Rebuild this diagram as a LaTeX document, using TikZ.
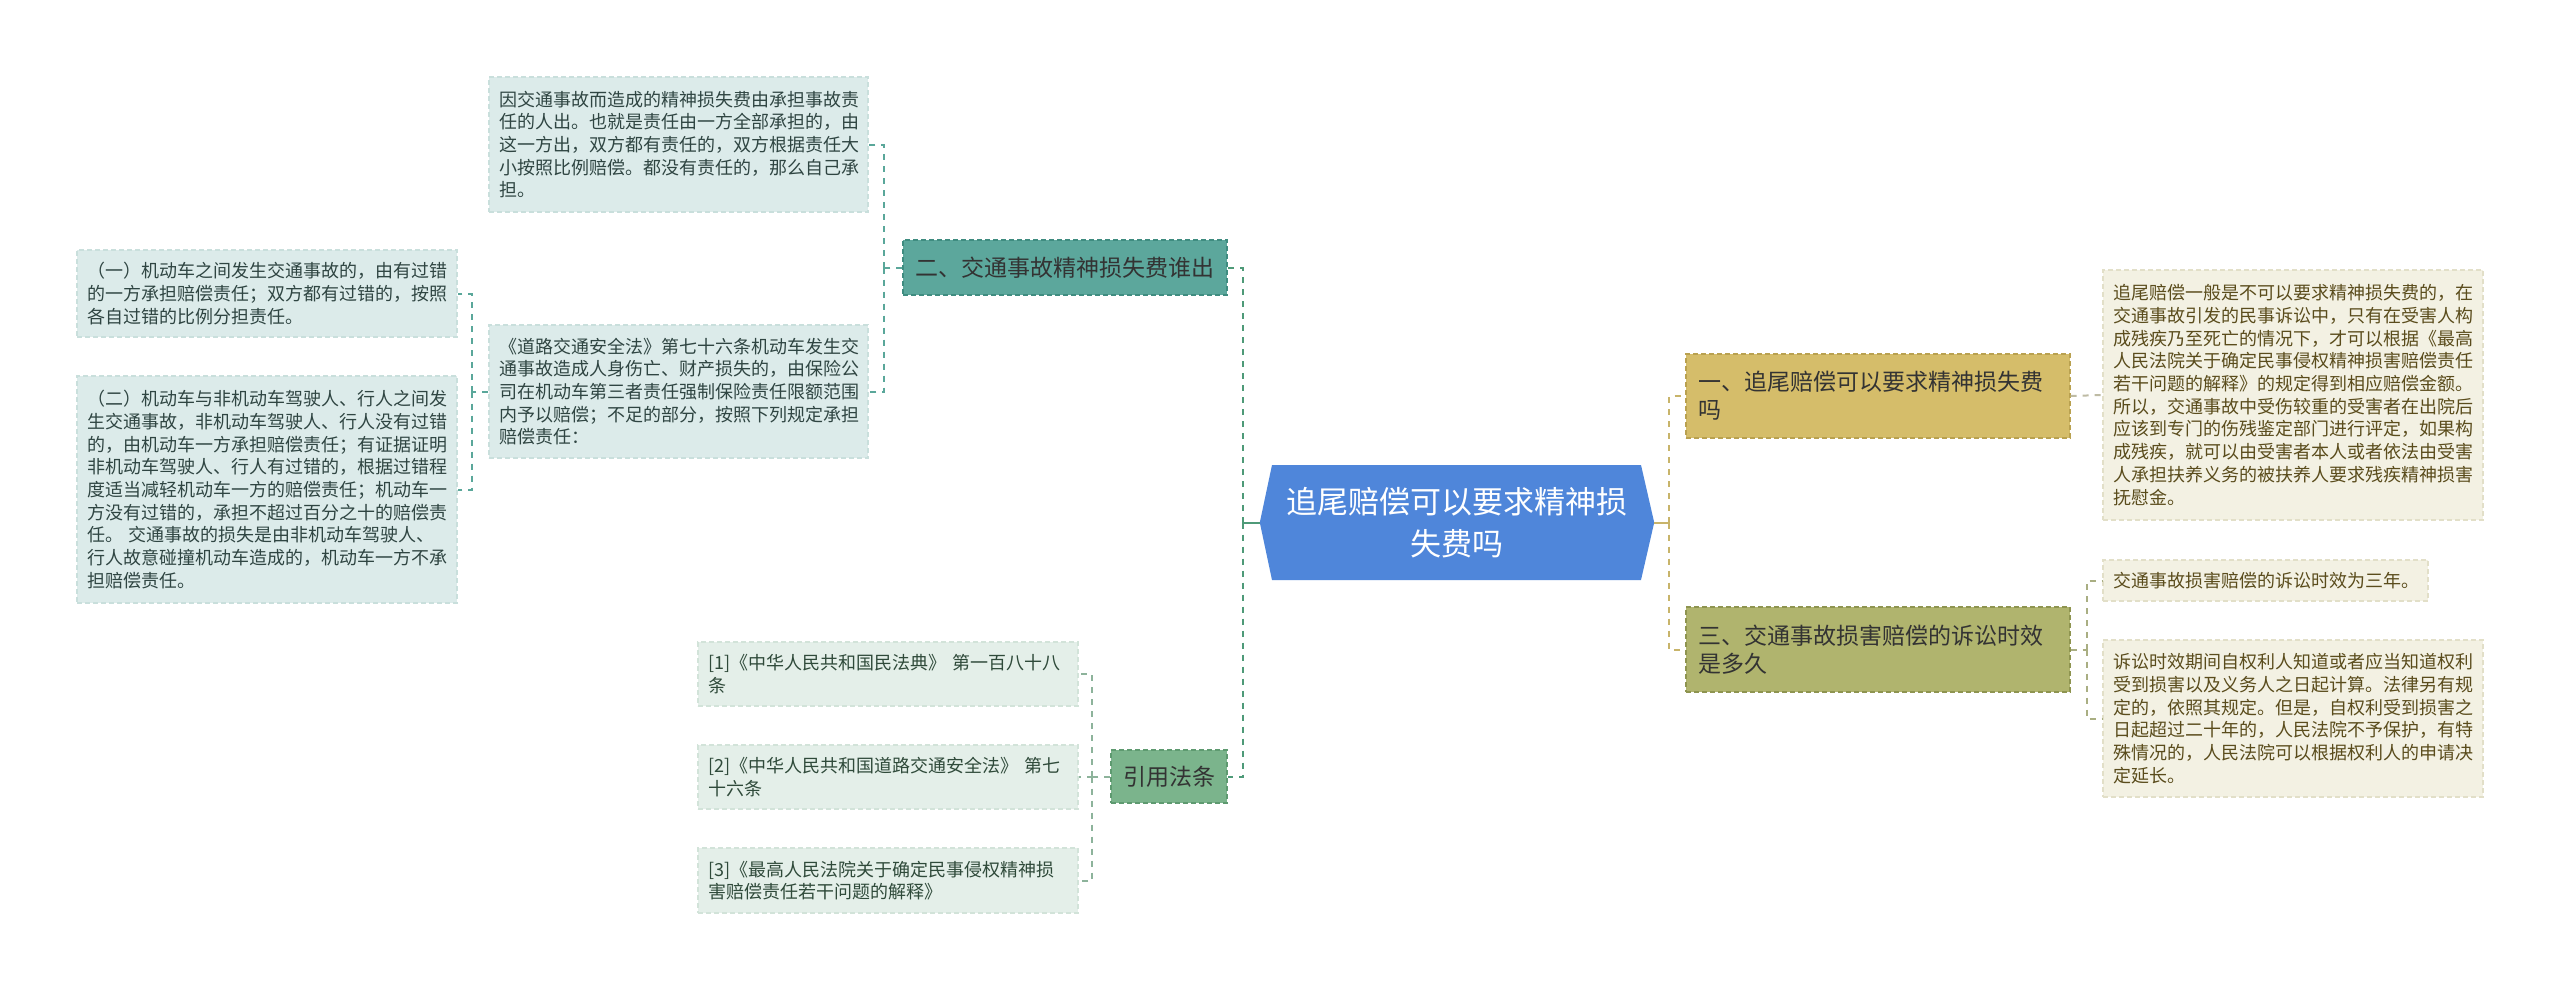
\documentclass[tikz,border=0pt]{standalone}
\usepackage{fontspec}
\setmainfont{Noto Sans CJK SC}
\definecolor{rootblue}{HTML}{4F86DA}
\definecolor{tealfill}{HTML}{5CA79C}
\definecolor{tealdraw}{HTML}{3F8C80}
\definecolor{tealpale}{HTML}{DCEBEA}
\definecolor{tealpaledraw}{HTML}{C9DFDC}
\definecolor{tealtext}{HTML}{2F4542}
\definecolor{goldfill}{HTML}{D5BD6A}
\definecolor{golddraw}{HTML}{B9A150}
\definecolor{olivefill}{HTML}{B0B46E}
\definecolor{olivedraw}{HTML}{8E9450}
\definecolor{creampale}{HTML}{F3F1E3}
\definecolor{creamdraw}{HTML}{E2DFC8}
\definecolor{creamtext}{HTML}{5A4C1C}
\definecolor{greenfill}{HTML}{7BB48C}
\definecolor{greendraw}{HTML}{5E9A70}
\definecolor{greenpale}{HTML}{E4EFE9}
\definecolor{greenpaledraw}{HTML}{D2E3D9}
\definecolor{greentext}{HTML}{2F4A3A}
\definecolor{lineteal}{HTML}{5AA79A}
\definecolor{linegreen}{HTML}{4E9A78}
\definecolor{linegold}{HTML}{C8B46A}
\definecolor{linegrey}{HTML}{BEBBA4}
\definecolor{lineolive}{HTML}{A9AE82}
\definecolor{linecite}{HTML}{8DB39B}
\definecolor{darktext}{HTML}{333333}
\tikzset{
  box/.style={rectangle, dashed, line width=1.2pt, dash pattern=on 5pt off 3pt, inner xsep=10pt, inner ysep=0pt, align=left, anchor=center},
  detailfont/.style={font=\fontsize{18}{22.7}\selectfont},
  branchfont/.style={font=\fontsize{23}{28}\selectfont},
  tealdetail/.style={box, detailfont, fill=tealpale, draw=tealpaledraw, text=tealtext},
  creamdetail/.style={box, detailfont, fill=creampale, draw=creamdraw, text=creamtext},
  citedetail/.style={box, detailfont, fill=greenpale, draw=greenpaledraw, text=greentext},
  conn/.style={line width=2pt, dash pattern=on 6pt off 6pt},
}
\begin{document}
\begin{tikzpicture}[x=1pt, y=-1pt]
\useasboundingbox (0,0) rectangle (2560,990);
\fill[white] (0,0) rectangle (2560,990);

% root
\node[minimum width=394pt, minimum height=115pt, inner sep=0pt] (root) at (1457,522.5) {};
\fill[rootblue] (root.west) -- (1272,465) -- (1641,465) -- (root.east) -- (1641,580) -- (1272,580) -- cycle;
\node[text=white, align=center, font=\fontsize{31}{42}\selectfont] (roottext) at (root.center) {追尾赔偿可以要求精神损\\失费吗};

% left branch
\node[box, branchfont, fill=tealfill, draw=tealdraw, text=darktext, inner xsep=12pt, text width=300pt, minimum height=55pt] (b2) at (1065,267.5) {二、交通事故精神损失费谁出};
\node[tealdetail, text width=359pt, minimum height=135pt] (d1) at (678.5,144.5) {因交通事故而造成的精神损失费由承担事故责\\任的人出。也就是责任由一方全部承担的，由\\这一方出，双方都有责任的，双方根据责任大\\小按照比例赔偿。都没有责任的，那么自己承\\担。};
\node[tealdetail, text width=359pt, minimum height=133pt] (d2) at (678.5,391.5) {《道路交通安全法》第七十六条机动车发生交\\通事故造成人身伤亡、财产损失的，由保险公\\司在机动车第三者责任强制保险责任限额范围\\内予以赔偿；不足的部分，按照下列规定承担\\赔偿责任：};
\node[tealdetail, text width=360pt, minimum height=87pt] (l1) at (267,293.5) {（一）机动车之间发生交通事故的，由有过错\\的一方承担赔偿责任；双方都有过错的，按照\\各自过错的比例分担责任。};
\node[tealdetail, text width=360pt, minimum height=227pt] (l2) at (267,489.5) {（二）机动车与非机动车驾驶人、行人之间发\\生交通事故，非机动车驾驶人、行人没有过错\\的，由机动车一方承担赔偿责任；有证据证明\\非机动车驾驶人、行人有过错的，根据过错程\\度适当减轻机动车一方的赔偿责任；机动车一\\方没有过错的，承担不超过百分之十的赔偿责\\任。 交通事故的损失是由非机动车驾驶人、\\行人故意碰撞机动车造成的，机动车一方不承\\担赔偿责任。};

% citation branch
\node[box, branchfont, fill=greenfill, draw=greendraw, text=darktext, inner xsep=12pt, text width=92pt, minimum height=53pt] (cite) at (1169,776.5) {引用法条};
\node[citedetail, text width=360pt, minimum height=64pt] (c1) at (888,674) {[1]《中华人民共和国民法典》 第一百八十八\\条};
\node[citedetail, text width=360pt, minimum height=64pt] (c2) at (888,777) {[2]《中华人民共和国道路交通安全法》 第七\\十六条};
\node[citedetail, text width=360pt, minimum height=65pt] (c3) at (888,880.5) {[3]《最高人民法院关于确定民事侵权精神损\\害赔偿责任若干问题的解释》};

% right branches
\node[box, branchfont, fill=goldfill, draw=golddraw, text=darktext, inner xsep=12pt, text width=360pt, minimum height=84pt] (b1) at (1878,396) {一、追尾赔偿可以要求精神损失费\\吗};
\node[box, branchfont, fill=olivefill, draw=olivedraw, text=darktext, inner xsep=12pt, text width=360pt, minimum height=85pt] (b3) at (1878,649.5) {三、交通事故损害赔偿的诉讼时效\\是多久};
\node[creamdetail, text width=360pt, minimum height=250pt] (r1) at (2293,395) {追尾赔偿一般是不可以要求精神损失费的，在\\交通事故引发的民事诉讼中，只有在受害人构\\成残疾乃至死亡的情况下，才可以根据《最高\\人民法院关于确定民事侵权精神损害赔偿责任\\若干问题的解释》的规定得到相应赔偿金额。\\所以，交通事故中受伤较重的受害者在出院后\\应该到专门的伤残鉴定部门进行评定，如果构\\成残疾，就可以由受害者本人或者依法由受害\\人承担扶养义务的被扶养人要求残疾精神损害\\抚慰金。};
\node[creamdetail, text width=305pt, minimum height=41pt] (r2) at (2265.5,580.5) {交通事故损害赔偿的诉讼时效为三年。};
\node[creamdetail, text width=360pt, minimum height=157pt] (r3) at (2293,718.5) {诉讼时效期间自权利人知道或者应当知道权利\\受到损害以及义务人之日起计算。法律另有规\\定的，依照其规定。但是，自权利受到损害之\\日起超过二十年的，人民法院不予保护，有特\\殊情况的，人民法院可以根据权利人的申请决\\定延长。};

% connectors
\draw[linegreen, line width=2pt] (root.west) -- ++(-17,0) coordinate (jl);
\draw[conn, linegreen] (jl) |- (b2.east);
\draw[conn, linegreen] (jl) |- (cite.east);
\draw[conn, lineteal] (b2.west) -- ++(-18,0) coordinate (j2);
\draw[conn, lineteal] (j2) |- (d1.east);
\draw[conn, lineteal] (j2) |- (d2.east);
\draw[conn, lineteal] (d2.west) -- ++(-16,0) coordinate (j3);
\draw[conn, lineteal] (j3) |- (l1.east);
\draw[conn, lineteal] (j3) |- (l2.east);
\draw[conn, linecite] (cite.west) -- ++(-18,0) coordinate (j4);
\draw[conn, linecite] (j4) |- (c1.east);
\draw[conn, linecite] (j4) |- (c2.east);
\draw[conn, linecite] (j4) |- (c3.east);
\draw[linegold, line width=2pt] (root.east) -- ++(15,0) coordinate (jr);
\draw[conn, linegold] (jr) |- (b1.west);
\draw[conn, linegold] (jr) |- (b3.west);
\draw[conn, linegrey] (b1.east) -- (r1.west);
\draw[conn, lineolive] (b3.east) -- ++(16,0) coordinate (j5);
\draw[conn, lineolive] (j5) |- (r2.west);
\draw[conn, lineolive] (j5) |- (r3.west);
\end{tikzpicture}
\end{document}
